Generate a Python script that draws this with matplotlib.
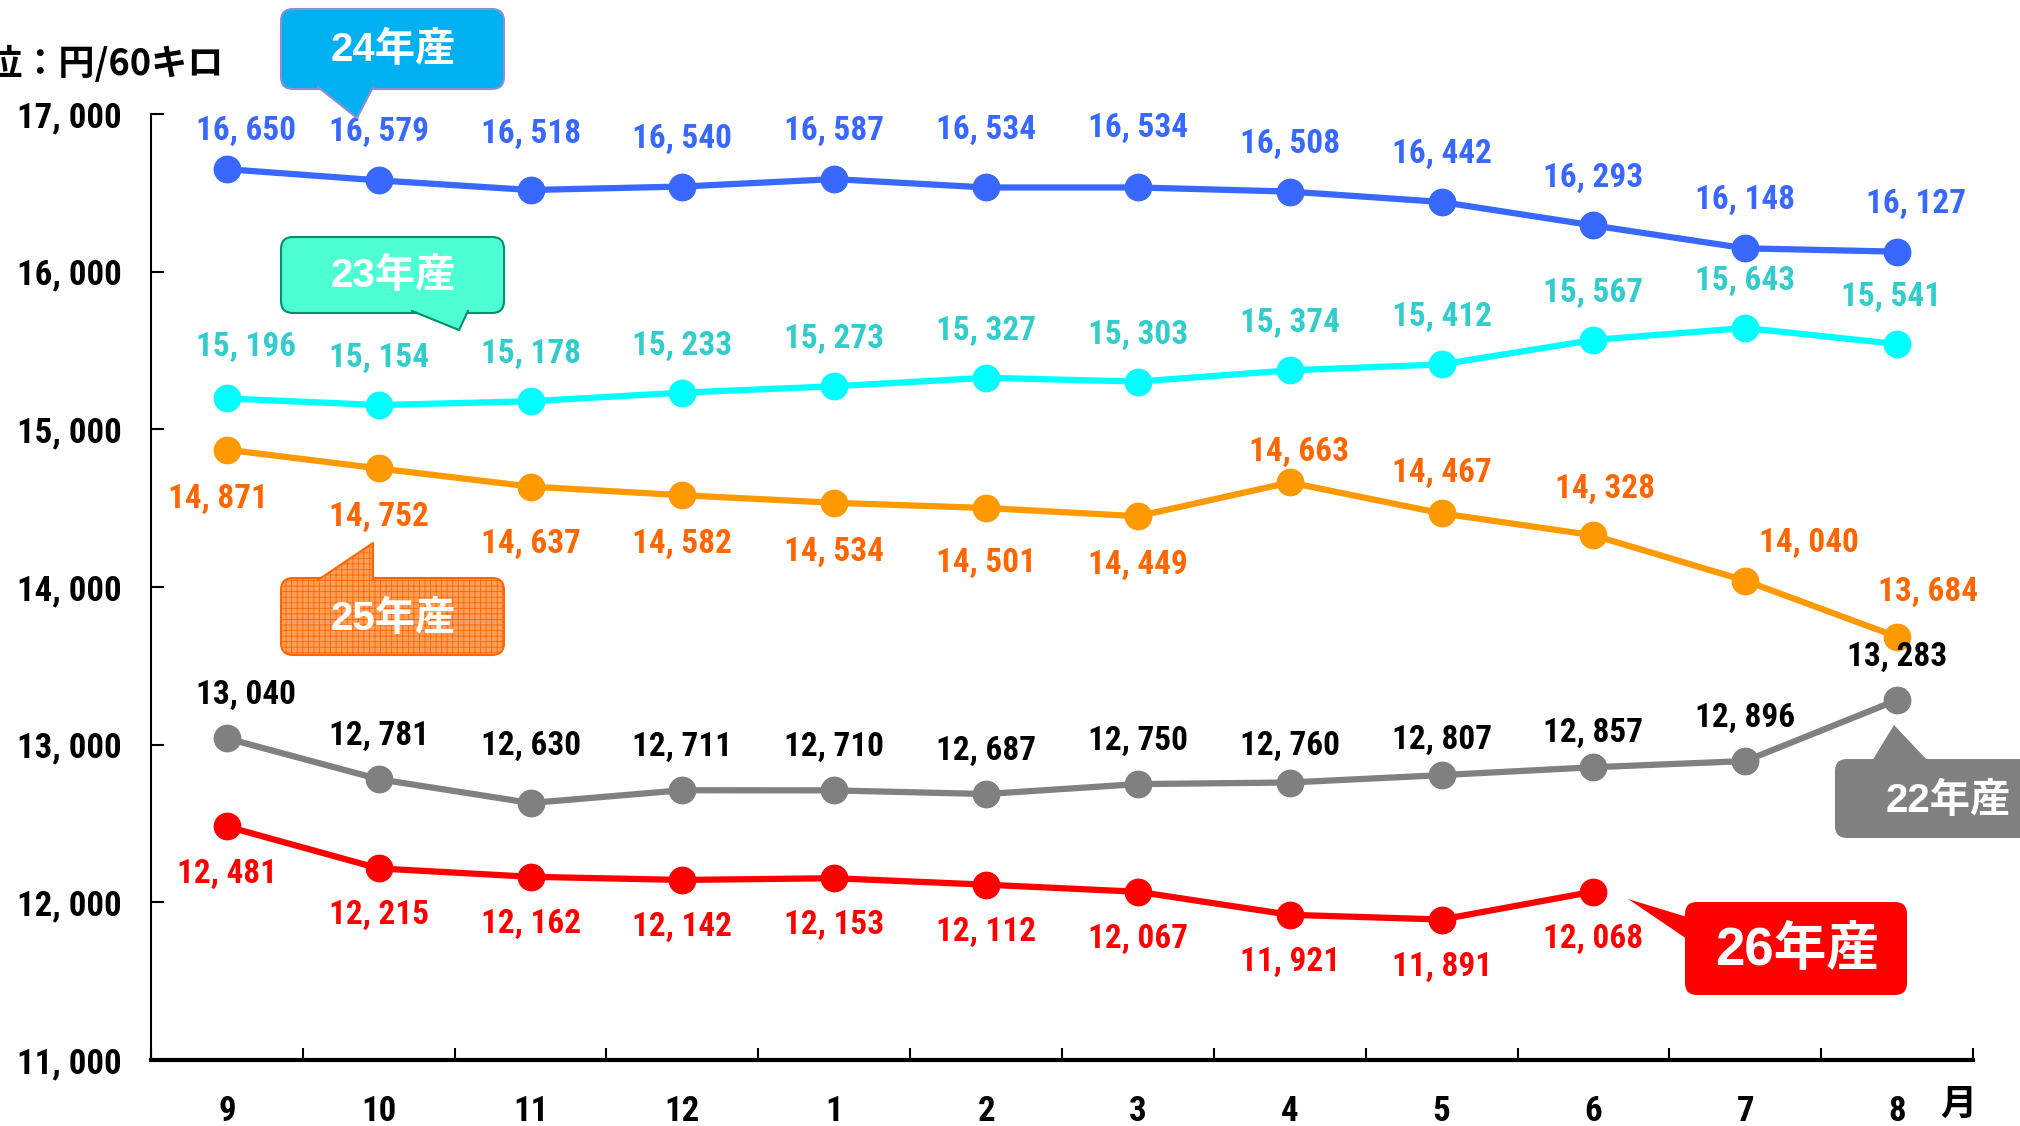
import matplotlib
matplotlib.use("Agg")
import matplotlib.pyplot as plt
from matplotlib.patches import FancyBboxPatch, Polygon
from matplotlib.lines import Line2D
from matplotlib.transforms import Affine2D
from matplotlib import font_manager

# ---------------- data ----------------
months = ["9", "10", "11", "12", "1", "2", "3", "4", "5", "6", "7", "8"]
y24 = [16650, 16579, 16518, 16540, 16587, 16534, 16534, 16508, 16442, 16293, 16148, 16127]
y23 = [15196, 15154, 15178, 15233, 15273, 15327, 15303, 15374, 15412, 15567, 15643, 15541]
y25 = [14871, 14752, 14637, 14582, 14534, 14501, 14449, 14663, 14467, 14328, 14040, 13684]
y22 = [13040, 12781, 12630, 12711, 12710, 12687, 12750, 12760, 12807, 12857, 12896, 13283]
y26 = [12481, 12215, 12162, 12142, 12153, 12112, 12067, 11921, 11891, 12068]
yticks = [11000, 12000, 13000, 14000, 15000, 16000, 17000]

W, H = 2020, 1126
installed = {f.name for f in font_manager.fontManager.ttflist}
condensed = [n for n in ["Roboto Condensed", "Liberation Sans Narrow"] if n in installed]
NUM = condensed[:1] + ["Liberation Sans", "Noto Sans CJK JP", "DejaVu Sans"]
NUM_SCALE = 1.14 if condensed else 1.0
JP = ["Noto Sans CJK JP", "DejaVu Sans"]
BOX = ["Liberation Sans", "Noto Sans CJK JP", "DejaVu Sans"]
plt.rcParams["hatch.linewidth"] = 0.6

fig = plt.figure(figsize=(W / 100, H / 100), dpi=100)
ax = fig.add_axes([151 / W, 1 - 1060 / H, (1973 - 151) / W, (1060 - 114) / H])

def fmt(v):
    return f"{v:,}".replace(",", ", ")

# label layout: side (+1 above / -1 below), base offset (px), and per-label nudges (dx, dy px; +dy = up)
x = list(range(len(months)))
series = [
    ("24", y24, "#3868FF", "#3868FF", 1, 48, {0: (19, -10), 2: (0, 8), 5: (0, 10), 6: (0, 12), 11: (19, 0)}),
    ("23", y23, "#00FFFF", "#33CCCC", 1, 47, {0: (19, 4), 11: (-6, 0)}),
    ("25", y25, "#FF9900", "#FF6600", -1, 49, {0: (-9, 0), 2: (0, -8), 5: (0, -6)}),
    ("22", y22, "#808080", "#000000", 1, 43, {0: (19, 0), 2: (0, 14), 7: (0, -6), 8: (0, -8), 9: (0, -9)}),
    ("26", y26, "#FF0000", "#FF0000", -1, 47, {}),
]
above25 = {7: (9, 31), 8: (0, 40), 9: (12, 46), 10: (64, 38), 11: (31, 45)}

for name, vals, lc, tc, side, off, nudges in series:
    xs = x[:len(vals)]
    ax.plot(xs, vals, color=lc, lw=4.5, marker="o", ms=19, zorder=3)
    for i, v in zip(xs, vals):
        dx, dy = nudges.get(i, (0, 0))
        oy = side * off + dy
        if name == "25" and i in above25:
            dx, oy = above25[i]
        ax.annotate(fmt(v), (i, v), xytext=(dx * 0.72, oy * 0.72), textcoords="offset points",
                    ha="center", va="center", fontsize=21 * NUM_SCALE, color=tc,
                    family=NUM, fontweight="bold", zorder=4)

ax.set_xlim(-0.5, 11.5)
ax.set_ylim(11000, 17000)
ax.set_yticks(yticks)
ax.set_yticklabels([fmt(v) for v in yticks], family=NUM, fontsize=22 * NUM_SCALE, fontweight="bold")
ax.set_xticks(x)
ax.set_xticklabels(months, family=NUM, fontsize=22 * NUM_SCALE, fontweight="bold")
ax.set_xticks([i - 0.5 for i in range(len(months) + 1)], minor=True)
ax.tick_params(axis="x", which="major", length=0, pad=25)
ax.tick_params(axis="x", which="minor", direction="in", length=9, width=1.5)
ax.tick_params(axis="y", which="major", direction="in", length=9, width=1.5, pad=21)
for sp in ["top", "right"]:
    ax.spines[sp].set_visible(False)
ax.spines["left"].set_linewidth(1.5)
ax.spines["bottom"].set_linewidth(3)

# pixel transform (top-left origin, full-size pixels)
PX = Affine2D().scale(1 / 100, -1 / 100).translate(0, H / 100) + fig.dpi_scale_trans

fig.text(224, 64, "単位：円/60キロ", transform=PX, ha="right", va="center",
         family=JP, fontsize=26, fontweight="bold")
fig.text(1958, 1104, "月", transform=PX, ha="center", va="center",
         family=JP, fontsize=26, fontweight="bold")

def callout(x0, y0, x1, y1, tail, face, edge, label, cx, cy, fs, hatch=None):
    box = FancyBboxPatch((x0, y0), x1 - x0, y1 - y0,
                         boxstyle="round,pad=0,rounding_size=12",
                         transform=PX, facecolor=face, edgecolor=edge,
                         lw=1.5, hatch=hatch, zorder=5)
    fig.add_artist(box)
    tri = Polygon(tail, closed=True, transform=PX, facecolor=face,
                  edgecolor="none", hatch=hatch, zorder=6)
    if hatch:
        tri.set_edgecolor(edge)
        tri.set_linewidth(0)
    fig.add_artist(tri)
    if edge != "none":
        (a, b, c) = tail
        fig.add_artist(Line2D([a[0], b[0], c[0]], [a[1], b[1], c[1]],
                              transform=PX, color=edge, lw=1.5, zorder=7))
    fig.text(cx, cy, label, transform=PX, ha="center", va="center",
             family=BOX, fontsize=fs, fontweight="bold", color="white", zorder=8)

callout(281, 9, 504, 89, [(318, 87), (357, 118), (373, 87)],
        "#00B0F0", "#8E8ED8", "24年産", 393, 50, 29)
callout(281, 237, 504, 313, [(412, 311), (459, 330), (468, 311)],
        "#4DFFD2", "#00906A", "23年産", 393, 276, 29)
callout(281, 578, 504, 655, [(318, 580), (373, 543), (373, 580)],
        "#FF9F5A", "#FF6600", "25年産", 393, 619, 29, hatch="+++")
callout(1835, 759, 2040, 838, [(1872, 761), (1894, 725), (1928, 761)],
        "#808080", "none", "22年産", 1948, 801, 29)
callout(1685, 902, 1907, 995, [(1687, 917), (1628, 899), (1687, 939)],
        "#FF0000", "none", "26年産", 1797, 951, 38)

fig.savefig("out.png", dpi=100)
